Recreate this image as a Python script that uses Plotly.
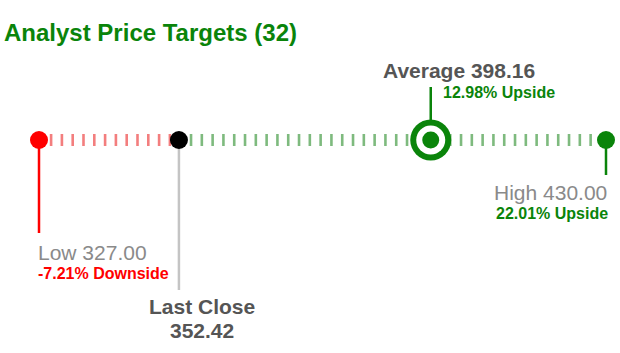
import plotly.graph_objects as go

# ---- data ----
labels = ["Low", "Last Close", "Average", "High"]
values = [327.00, 352.42, 398.16, 430.00]
n_analysts = 32
low, last_close, average, high = values
pct = [(v / last_close - 1) * 100 for v in values]

# ---- style / layout constants ----
W, H = 620, 353
TRACK_Y = 140
LOW_PX, HIGH_PX = 39, 606
k = (HIGH_PX - LOW_PX) / (high - low)
x0 = low - LOW_PX / k
x1 = x0 + W / k

RED = "#ff0000"
GREEN = "#0a840a"
DARK = "#555555"
GREY = "#8a8a8a"
FONT = "Arial, Liberation Sans, sans-serif"

fig = go.Figure()

# dashed track
fig.add_trace(go.Scatter(x=[low, last_close], y=[TRACK_Y, TRACK_Y], mode="lines",
                         line=dict(color="rgba(235,40,40,0.6)", width=12, dash="2.6px,8.2px"),
                         hoverinfo="skip"))
fig.add_trace(go.Scatter(x=[last_close, high], y=[TRACK_Y, TRACK_Y], mode="lines",
                         line=dict(color="rgba(20,130,20,0.55)", width=12, dash="2.6px,8.2px"),
                         hoverinfo="skip"))

# stems
def stem(x, y0, y1, color):
    fig.add_trace(go.Scatter(x=[x, x], y=[y0, y1], mode="lines",
                             line=dict(color=color, width=2.5), hoverinfo="skip"))

stem(low, TRACK_Y, 233, RED)
stem(last_close, TRACK_Y, 290, "#c4c4c4")
stem(average, TRACK_Y, 87, GREEN)
stem(high, TRACK_Y, 175, GREEN)

# average ring
fig.add_trace(go.Scatter(x=[average], y=[TRACK_Y], mode="markers",
                         marker=dict(size=41, color=GREEN), hoverinfo="skip"))
fig.add_trace(go.Scatter(x=[average], y=[TRACK_Y], mode="markers",
                         marker=dict(size=29, color="white"), hoverinfo="skip"))
fig.add_trace(go.Scatter(x=[average], y=[TRACK_Y], mode="markers",
                         marker=dict(size=17, color=GREEN), hoverinfo="skip"))

# dots
fig.add_trace(go.Scatter(x=[low, last_close, high], y=[TRACK_Y] * 3, mode="markers",
                         marker=dict(size=18, color=[RED, "#000000", GREEN]),
                         hoverinfo="skip"))

def ann(text, x, y, xshift, xanchor, size, color, bold):
    t = f"<b>{text}</b>" if bold else text
    fig.add_annotation(x=x, y=y, xref="x", yref="y", text=t, showarrow=False,
                       xshift=xshift, xanchor=xanchor, yanchor="middle",
                       font=dict(family=FONT, size=size, color=color))

ann(f"Average {average:.2f}", average, 70, 28, "center", 21, DARK, True)
ann(f"{pct[2]:.2f}% Upside", average, 92, 10, "left", 16, GREEN, True)
ann(f"High {high:.2f}", high, 192, 3, "right", 21, GREY, False)
ann(f"{pct[3]:.2f}% Upside", high, 213, 4, "right", 16, GREEN, True)
ann(f"Low {low:.2f}", low, 252, -3, "left", 21, GREY, False)
ann(f"{pct[0]:.2f}% Downside", low, 273, -3, "left", 16, RED, True)
ann("Last Close", last_close, 306, 23, "center", 21, DARK, True)
ann(f"{last_close:.2f}", last_close, 330, 23, "center", 21, DARK, True)

fig.add_annotation(xref="paper", x=2 / W, yref="paper", y=1 - 33 / H,
                   text=f"<b>Analyst Price Targets ({n_analysts})</b>",
                   showarrow=False, xanchor="left", yanchor="middle",
                   font=dict(family=FONT, size=24, color=GREEN))

fig.update_layout(
    width=W, height=H, margin=dict(l=0, r=0, t=0, b=0),
    paper_bgcolor="white", plot_bgcolor="white", showlegend=False,
    xaxis=dict(range=[x0, x1], visible=False, fixedrange=True),
    yaxis=dict(range=[H, 0], visible=False, fixedrange=True),
)

fig.write_html("out.html", config={"displayModeBar": False})
